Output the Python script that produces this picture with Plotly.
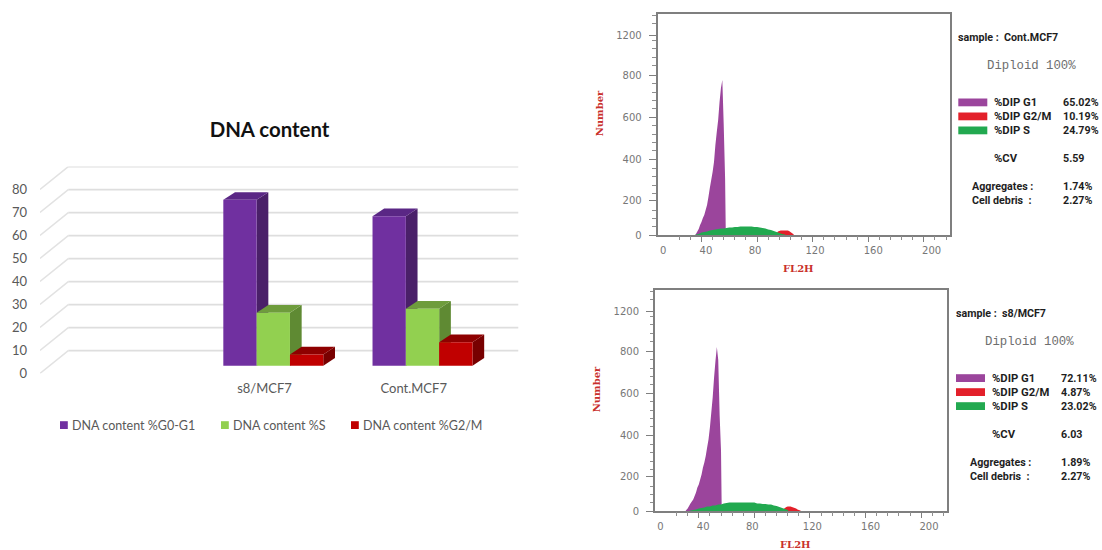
import plotly.graph_objects as go

W, H = 1102, 550

# ---------- bar chart data ----------
bar_title = "DNA content"
bar_categories = ["s8/MCF7", "Cont.MCF7"]
bar_positions = [1, 2]
series_names = ["DNA content %G0-G1", "DNA content %S", "DNA content %G2/M"]
g0g1_values = [72.11, 65.02]
s_values = [23.02, 24.79]
g2m_values = [4.87, 10.19]
bar_ticks = [0, 10, 20, 30, 40, 50, 60, 70, 80]

# ---------- histogram data ----------
hist_y_tick_vals = [0, 171, 380, 588, 800, 1000]
hist_y_tick_text = ["0", "200", "400", "600", "800", "1200"]
hist_x_label_vals = [12.5, 43.2, 78.5, 121.7, 163.6, 205.6]
hist_x_label_text = ["0", "40", "80", "120", "160", "200"]
hist_x_major = [40, 80, 120, 160, 200]
hist_x_minor = [24, 32, 48, 56, 64, 72, 88, 96, 104, 112, 128, 136, 144, 152, 168, 176, 184, 192, 208, 216]
hist_y_minor = [42, 83, 125, 208, 250, 292, 333, 422, 463, 505, 547, 632, 674, 715, 757,
                849, 890, 932, 973, 1057, 1098]

cont_g1_ch = list(range(36, 58))
cont_g1 = [5, 17, 30, 50, 65, 85, 100, 125, 150, 190, 235, 275, 315, 365, 450, 515, 575, 665, 735, 775, 550, 280]
cont_s_ch = list(range(36, 102, 2))
cont_s = [2, 5, 12, 15, 18, 22, 25, 28, 30, 32, 33, 35, 37, 38, 40, 40, 42, 42, 42, 42, 42, 40, 40, 37, 35, 32, 28, 25, 20, 15, 10, 5, 2]
cont_g2_ch = list(range(94, 107))
cont_g2 = [8, 17, 20, 22, 23, 23, 23, 23, 22, 20, 15, 10, 5]

s8_g1_ch = list(range(31, 57))
s8_g1 = [5, 13, 25, 37, 47, 58, 75, 92, 117, 133, 158, 183, 217, 242, 275, 317, 358, 417, 492, 567, 667, 750, 820, 755, 480, 300]
s8_s_ch = list(range(34, 106, 2))
s8_s = [2, 5, 8, 12, 15, 18, 22, 23, 27, 28, 32, 33, 38, 40, 42, 42, 42, 42, 42, 42, 42, 42, 42, 42, 37, 37, 35, 35, 33, 32, 28, 25, 20, 15, 10, 5]
s8_g2_ch = list(range(101, 114))
s8_g2 = [10, 15, 20, 22, 22, 22, 20, 18, 15, 12, 8, 5, 2]

cont_rows = ["65.02%", "10.19%", "24.79%", "5.59", "1.74%", "2.27%"]
s8_rows = ["72.11%", "4.87%", "23.02%", "6.03", "1.89%", "2.27%"]

# ---------- style ----------
FRONT = ["#7030A0", "#92D050", "#C00000"]
TOP = ["#5A2785", "#6E9C3C", "#8E0000"]
SIDE = ["#4A2069", "#5F8A33", "#780000"]
HIST = {"g1": "#9B459C", "g2": "#E3202A", "s": "#22A950"}


def fx(p):
    return p / W


def fy(p):
    return 1 - p / H


fig = go.Figure()
shapes, notes = [], []

# ---------- 3-D style bar chart ----------
X0, X1 = -0.5637, 2.6535
BASE = 3.35            # bars stand this far above the front floor edge
DX, DY = 0.0784, 3.35  # bar depth (data units)
WALL_DX, WALL_DY = 0.1897, 9.87
GRID_END = 2.642
GROUP = 0.670
BW = GROUP / 3

for name, vals, col in zip(series_names, [g0g1_values, s_values, g2m_values], FRONT):
    fig.add_trace(go.Bar(x=bar_positions, y=vals, base=BASE, name=name, marker=dict(color=col, line_width=0),
                         xaxis="x", yaxis="y", showlegend=False))

for v in bar_ticks:
    yb = v + WALL_DY
    shapes.append(dict(type="line", xref="x", yref="y", layer="below", x0=X0, y0=v, x1=X0 + WALL_DX, y1=yb,
                       line=dict(color="#E2E2E2", width=1.5)))
    shapes.append(dict(type="line", xref="x", yref="y", layer="below", x0=X0 + WALL_DX, y0=yb, x1=GRID_END, y1=yb,
                       line=dict(color="#DEDEDE", width=1.7)))


def poly(pts, color):
    path = "M " + " L ".join(f"{a},{b}" for a, b in pts) + " Z"
    return dict(type="path", xref="x", yref="y", layer="below", path=path, fillcolor=color, line_width=0)


for pos_i, pos in enumerate(bar_positions):
    for k, vals in enumerate([g0g1_values, s_values, g2m_values]):
        left = pos - GROUP / 2 + k * BW
        right = left + BW
        top = BASE + vals[pos_i]
        shapes.append(poly([(right, BASE), (right + DX, BASE + DY), (right + DX, top + DY), (right, top)], SIDE[k]))
        shapes.append(poly([(left, top), (left + DX, top + DY), (right + DX, top + DY), (right, top)], TOP[k]))

fig.update_layout(
    xaxis=dict(domain=[fx(40), fx(520)], range=[X0, X1], tickvals=[p - 0.059 for p in bar_positions],
               ticktext=bar_categories, showgrid=False, zeroline=False, showline=False, ticks="",
               ticklabelstandoff=6, tickfont=dict(family="Lato", size=13, color="#595959")),
    yaxis=dict(domain=[fy(373.4), fy(166.4)], range=[0, 90], tickvals=bar_ticks, showgrid=False, zeroline=False,
               showline=False, ticks="", ticklabelstandoff=12, tickfont=dict(family="Lato", size=13, color="#595959")),
)

legend_sw = [60, 221, 351]
legend_tx = [72.3, 232.7, 362.7]
for name, sx, tx, col in zip(series_names, legend_sw, legend_tx, FRONT):
    shapes.append(dict(type="rect", xref="paper", yref="paper", x0=fx(sx), x1=fx(sx + 7.8), y0=fy(429), y1=fy(421.2),
                       fillcolor=col, line_width=0))
    notes.append(dict(text=name, x=fx(tx), y=fy(425), xanchor="left", yanchor="middle",
                      font=dict(family="Lato", size=12.5, color="#595959")))


# ---------- flow cytometry panels ----------
def panel(idx, left, right, top, bottom, g1, s, g2, sample, rows, tx):
    xa, xt, ya = f"x{idx}", f"x{idx + 1}", f"y{idx}"
    for (ch, vals), key in zip([g1, g2, s], ["g1", "g2", "s"]):
        xs = [ch[0] - 0.5] + list(ch) + [ch[-1] + 0.5]
        ys = [0] + list(vals) + [0]
        fig.add_trace(go.Scatter(x=xs, y=ys, mode="lines", line=dict(width=0, color=HIST[key], simplify=False),
                                 fill="tozeroy", fillcolor=HIST[key], xaxis=xa, yaxis=ya, showlegend=False))
    fig.add_trace(go.Scatter(x=[None], y=[None], xaxis=xt, yaxis=ya, showlegend=False, hoverinfo="skip"))
    xr = [8.5, 218.8]
    yr = [0, (bottom - top) / 0.2]
    axis_font = dict(family="DejaVu Sans", size=10, color="#777777")
    fig.update_layout({
        f"xaxis{idx}": dict(domain=[fx(left), fx(right)], range=xr, anchor=ya, tickvals=hist_x_label_vals,
                            ticktext=hist_x_label_text, ticks="outside", ticklen=5, tickcolor="rgba(0,0,0,0)",
                            showgrid=False, zeroline=False, showline=True, linecolor="#7F7F7F", linewidth=2,
                            mirror=True, tickfont=axis_font, ticklabelstandoff=0),
        f"xaxis{idx + 1}": dict(domain=[fx(left), fx(right)], range=xr, anchor=ya, overlaying=xa, tickvals=hist_x_major,
                                ticks="outside", ticklen=6, tickcolor="#7F7F7F", tickwidth=1, showticklabels=False,
                                showgrid=False, zeroline=False, showline=False,
                                minor=dict(tickvals=hist_x_minor, ticks="outside", ticklen=3.5, tickcolor="#8F8F8F", tickwidth=1)),
        f"yaxis{idx}": dict(domain=[fy(bottom), fy(top)], range=yr, anchor=xa, tickvals=hist_y_tick_vals,
                            ticktext=hist_y_tick_text, ticks="outside", ticklen=7, tickcolor="#7F7F7F", tickwidth=1,
                            showgrid=False, zeroline=False, showline=True, linecolor="#7F7F7F", linewidth=2,
                            mirror=True, tickfont=axis_font, ticklabelstandoff=5,
                            minor=dict(tickvals=hist_y_minor, ticks="outside", ticklen=3.5, tickcolor="#8F8F8F", tickwidth=1)),
    })
    red = "#C9302C"
    title_font = dict(family="DejaVu Serif", size=10, color=red, weight="bold")
    notes.append(dict(text="Number", x=fx(left - 58.7), y=fy(top + 99), xanchor="center", yanchor="middle", textangle=-90, font=title_font))
    notes.append(dict(text="FL2H", x=fx(left + 140.5), y=fy(bottom + 33), xanchor="center", yanchor="middle", font=title_font))

    f = dict(family="Roboto", size=10.7, color="#1E1E1E", weight="bold")
    fl = dict(family="Roboto", size=11.3, color="#1E1E1E", weight="bold")
    notes.append(dict(text=sample, x=fx(tx), y=fy(top + 23), xanchor="left", yanchor="middle", font=f))
    notes.append(dict(text="Diploid 100%", x=fx(tx + 29), y=fy(top + 52), xanchor="left", yanchor="middle",
                      font=dict(family="Liberation Mono", size=12.3, color="#6E6E6E")))
    labels = ["%DIP G1", "%DIP G2/M", "%DIP S", "%CV"]
    offsets = [88, 102, 116, 144, 172.5, 186]
    for lab, off in zip(labels, offsets):
        notes.append(dict(text=lab, x=fx(tx + 36), y=fy(top + off), xanchor="left", yanchor="middle", font=fl))
    for lab, off in zip(["Aggregates :", "Cell debris  :"], offsets[4:]):
        notes.append(dict(text=lab, x=fx(tx + 13.5), y=fy(top + off), xanchor="left", yanchor="middle", font=f))
    for val, off in zip(rows, offsets):
        notes.append(dict(text=val, x=fx(tx + 104.5), y=fy(top + off), xanchor="left", yanchor="middle", font=f))
    for key, off in zip(["g1", "g2", "s"], offsets[:3]):
        shapes.append(dict(type="rect", xref="paper", yref="paper", x0=fx(tx), x1=fx(tx + 29), y0=fy(top + off + 4),
                           y1=fy(top + off - 3.8), fillcolor=HIST[key], line_width=0))


panel(3, 657.7, 950, 14.3, 235, (cont_g1_ch, cont_g1), (cont_s_ch, cont_s), (cont_g2_ch, cont_g2),
      "sample :  Cont.MCF7", cont_rows, 958.3)
panel(5, 655, 947.3, 290, 511, (s8_g1_ch, s8_g1), (s8_s_ch, s8_s), (s8_g2_ch, s8_g2),
      "sample :  s8/MCF7", s8_rows, 956)

for n in notes:
    n.update(xref="paper", yref="paper", showarrow=False, borderpad=0, borderwidth=0)

fig.update_layout(
    width=W, height=H, margin=dict(l=0, r=0, t=0, b=0, autoexpand=False), paper_bgcolor="white",
    plot_bgcolor="rgba(0,0,0,0)",
    barmode="group", bargap=1 - GROUP, bargroupgap=0, showlegend=False,
    title=dict(text=bar_title, x=269.5 / W, y=fy(130), xanchor="center", yanchor="middle",
               font=dict(family="Lato", size=20.4, color="#111111", weight="bold")),
    shapes=shapes, annotations=notes,
)

fig.write_html("out.html", config={"displayModeBar": False},
               post_script="document.body.style.margin='0';")
